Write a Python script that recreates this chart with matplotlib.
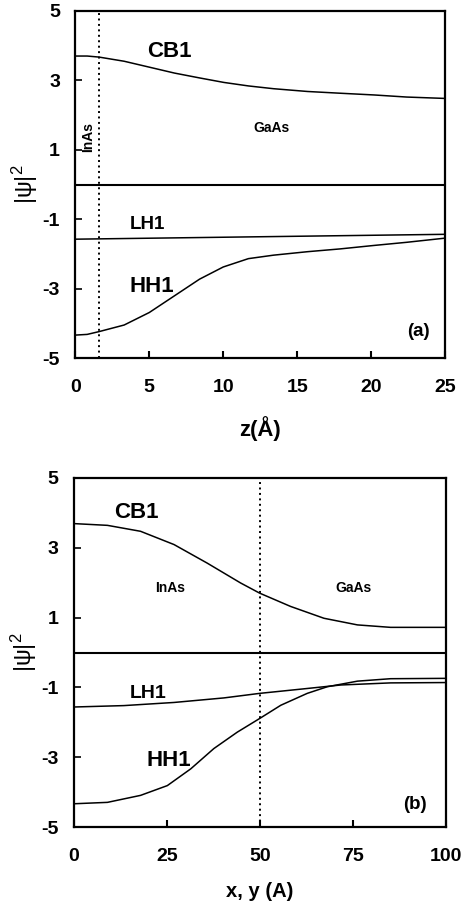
import numpy as np
import matplotlib
matplotlib.use('Agg')
import matplotlib.pyplot as plt
from matplotlib import rcParams

rcParams['font.family'] = 'sans-serif'
rcParams['font.sans-serif'] = ['Liberation Sans', 'DejaVu Sans']
rcParams['font.weight'] = 'bold'
rcParams['font.size'] = 14
rcParams['axes.unicode_minus'] = False
rcParams['mathtext.fontset'] = 'custom'
rcParams['mathtext.rm'] = 'Liberation Sans:weight=normal'

##### DATA #####

# panel (a): along growth direction z
z_cb1 = [0, 0.8, 1.6, 3.3, 5.0, 6.7, 8.4, 10.05, 11.7, 13.4, 15.7, 17.9, 20.2, 22.4, 25]
cb1_a = [3.70, 3.70, 3.67, 3.55, 3.38, 3.21, 3.07, 2.94, 2.84, 2.76, 2.68, 2.63, 2.58, 2.52, 2.48]
z_lh1 = [0, 12.5, 25]
lh1_a = [-1.57, -1.50, -1.43]
z_hh1 = [0, 0.8, 1.6, 3.3, 5.0, 6.7, 8.4, 10.0, 11.7, 13.4, 15.7, 17.9, 20.2, 22.4, 25]
hh1_a = [-4.33, -4.31, -4.23, -4.04, -3.68, -3.20, -2.72, -2.37, -2.13, -2.03, -1.93, -1.85,
         -1.75, -1.66, -1.54]
z_interface = 1.6

# panel (b): in-plane x, y
xy_cb1 = [0, 9.0, 17.9, 26.9, 35.8, 44.8, 49.9, 58.2, 67.2, 76.2, 85.1, 100]
cb1_b = [3.69, 3.64, 3.47, 3.09, 2.56, 1.99, 1.70, 1.32, 0.98, 0.79, 0.72, 0.72]
xy_lh1 = [0, 13.4, 26.9, 40.3, 49.9, 62.7, 71.7, 85.1, 100]
lh1_b = [-1.56, -1.52, -1.43, -1.30, -1.17, -1.03, -0.93, -0.87, -0.86]
xy_hh1 = [0, 9.0, 17.9, 25.1, 31.4, 37.6, 43.9, 49.9, 55.6, 62.7, 68.1, 76.2, 85.1, 100]
hh1_b = [-4.33, -4.29, -4.09, -3.81, -3.33, -2.75, -2.28, -1.89, -1.51, -1.17, -0.98, -0.82,
         -0.75, -0.74]
xy_interface = 50

yticks = [-5, -3, -1, 1, 3, 5]
xticks_a = [0, 5, 10, 15, 20, 25]
xticks_b = [0, 25, 50, 75, 100]

##### PLOT #####

fig = plt.figure(figsize=(4.68, 9.05), dpi=100)
ax1 = fig.add_axes([0.161, 0.604, 0.790, 0.384])
ax2 = fig.add_axes([0.158, 0.086, 0.795, 0.386])


def style(ax, xticks, xmax):
    ax.set_xlim(0, xmax)
    ax.set_ylim(-5, 5)
    ax.set_xticks(xticks)
    ax.set_yticks(yticks)
    ax.tick_params(axis='x', direction='in', length=5, width=1.5, pad=15, labelsize=14)
    ax.tick_params(axis='y', direction='in', length=5, width=1.2, pad=11, labelsize=14)
    for s in ax.spines.values():
        s.set_linewidth(1.6)
    ax.axhline(0, color='black', lw=1.5)
    ax.set_ylabel(r'$\mathrm{|\psi|^2}$', fontsize=17, fontweight='normal')
    ax.yaxis.set_label_coords(-0.095, 0.5)


# (a)
style(ax1, xticks_a, 25)
ax1.plot(z_cb1, cb1_a, color='black', lw=1.1)
ax1.plot(z_lh1, lh1_a, color='black', lw=1.1)
ax1.plot(z_hh1, hh1_a, color='black', lw=1.1)
ax1.axvline(z_interface, color='black', lw=1.4, linestyle=(0, (1, 1.8)))
ax1.text(6.33, 3.82, 'CB1', fontsize=16, ha='center', va='center')
ax1.text(4.85, -1.15, 'LH1', fontsize=13.5, ha='center', va='center')
ax1.text(5.16, -2.94, 'HH1', fontsize=16, ha='center', va='center')
ax1.text(13.27, 1.63, 'GaAs', fontsize=10, ha='center', va='center')
ax1.text(0.88, 1.37, 'InAs', fontsize=10, ha='center', va='center', rotation=90)
ax1.text(23.2, -4.22, '(a)', fontsize=13.5, ha='center', va='center')
ax1.set_xlabel('z(Å)', fontsize=16, fontweight='bold', labelpad=14)

# (b)
style(ax2, xticks_b, 100)
ax2.plot(xy_cb1, cb1_b, color='black', lw=1.1)
ax2.plot(xy_lh1, lh1_b, color='black', lw=1.1)
ax2.plot(xy_hh1, hh1_b, color='black', lw=1.1)
ax2.axvline(xy_interface, color='black', lw=1.4, linestyle=(0, (1, 1.8)))
ax2.text(16.8, 4.0, 'CB1', fontsize=16, ha='center', va='center')
ax2.text(20.0, -1.17, 'LH1', fontsize=14, ha='center', va='center')
ax2.text(25.4, -3.09, 'HH1', fontsize=16, ha='center', va='center')
ax2.text(25.8, 1.85, 'InAs', fontsize=10, ha='center', va='center')
ax2.text(75.1, 1.85, 'GaAs', fontsize=10, ha='center', va='center')
ax2.text(91.7, -4.35, '(b)', fontsize=13.5, ha='center', va='center')
ax2.set_xlabel('x, y (A)', fontsize=14.5, fontweight='bold', labelpad=12)

plt.savefig('out.png', dpi=100)
